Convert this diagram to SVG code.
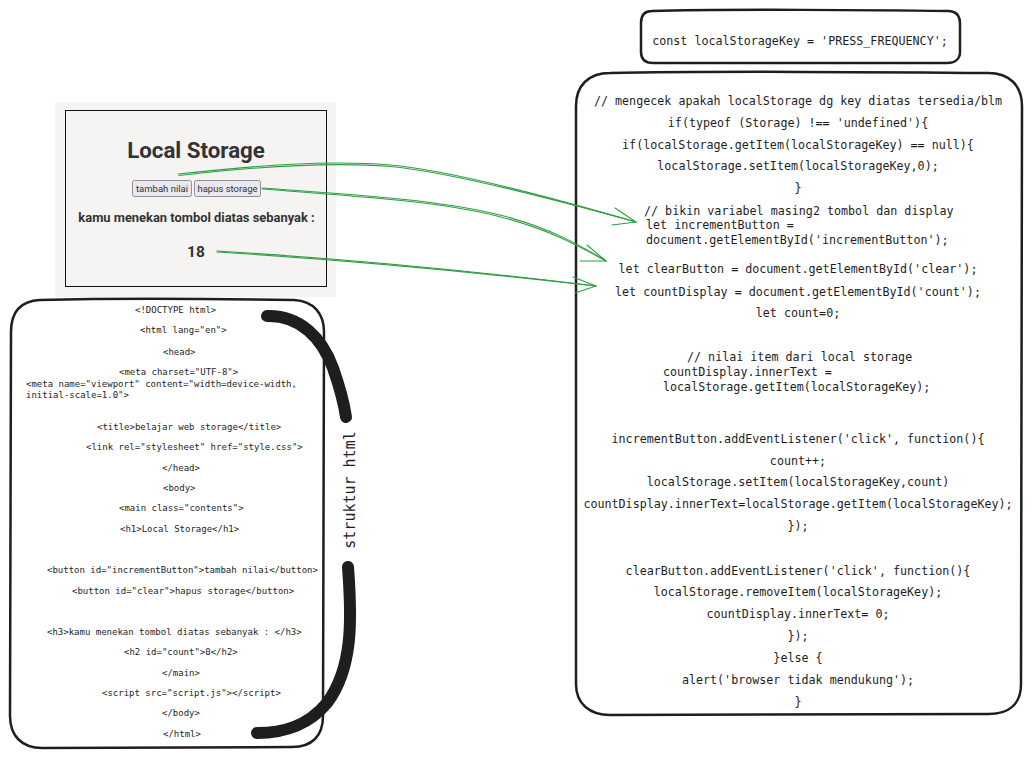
<svg xmlns="http://www.w3.org/2000/svg" width="1032" height="759" viewBox="0 0 1032 759">
<style>
.box{fill:none;stroke:#1e1e1e;stroke-width:2.5;stroke-linecap:round;stroke-linejoin:round}
.code{font-family:"DejaVu Sans Mono","Liberation Mono",monospace;fill:#1e1e1e}
.s{font-size:9px}
.m{font-size:11.7px}
.c{text-anchor:middle}
.arr{fill:none;stroke:#2f9e44;stroke-width:1.1;stroke-linecap:round;stroke-linejoin:round}
.brace{fill:none;stroke:#1e1e1e;stroke-width:12;stroke-linecap:round;stroke-linejoin:round}
.ui{font-family:Roboto,"Noto Sans",sans-serif;fill:#333}
.btn{fill:#e9e8ee;stroke:#8f8f9d;stroke-width:1}
</style>
<rect width="1032" height="759" fill="#ffffff"/>

<g id="screenshot">
  <rect x="55" y="102" width="281" height="195" fill="#f5f4f2"/>
  <rect x="65.5" y="110.5" width="261" height="176" fill="#f5f4f2" stroke="#111" stroke-width="1"/>
  <text class="ui c" x="196" y="158" font-size="22.3" font-weight="bold">Local Storage</text>
  <rect class="btn" x="132.5" y="180.5" width="59" height="16" rx="2"/>
  <text class="ui c" x="162" y="192" font-size="9.5" fill="#222">tambah nilai</text>
  <rect class="btn" x="194.5" y="180.5" width="66" height="16" rx="2"/>
  <text class="ui c" x="227.5" y="192" font-size="9.5" fill="#222">hapus storage</text>
  <text class="ui c" x="196.5" y="222" font-size="12.9" font-weight="bold">kamu menekan tombol diatas sebanyak :</text>
  <text class="ui c" x="196" y="257" font-size="15.5" font-weight="bold">18</text>
</g>

<g id="html-structure">
  <path class="box" d="M40,300 C120,298 230,299 294,300 C314,301 324,314 324,332 L323,716 C323,736 312,747 292,747 L42,748 C22,748 10,736 10,716 L11,332 C11,313 20,301 40,300 Z"/>
  <g class="code s">
    <text x="135" y="313">&lt;!DOCTYPE html&gt;</text>
    <text x="140" y="333">&lt;html lang="en"&gt;</text>
    <text x="163" y="355">&lt;head&gt;</text>
    <text x="119" y="375">&lt;meta charset="UTF-8"&gt;</text>
    <text x="26" y="387">&lt;meta name="viewport" content="width=device-width,</text>
    <text x="26" y="398">initial-scale=1.0"&gt;</text>
    <text x="97" y="430">&lt;title&gt;belajar web storage&lt;/title&gt;</text>
    <text x="86" y="450">&lt;link rel="stylesheet" href="style.css"&gt;</text>
    <text x="162" y="471">&lt;/head&gt;</text>
    <text x="163" y="491">&lt;body&gt;</text>
    <text x="119" y="511">&lt;main class="contents"&gt;</text>
    <text x="120" y="532">&lt;h1&gt;Local Storage&lt;/h1&gt;</text>
    <text x="47" y="573">&lt;button id="incrementButton"&gt;tambah nilai&lt;/button&gt;</text>
    <text x="72" y="594">&lt;button id="clear"&gt;hapus storage&lt;/button&gt;</text>
    <text x="47" y="635">&lt;h3&gt;kamu menekan tombol diatas sebanyak : &lt;/h3&gt;</text>
    <text x="124" y="655">&lt;h2 id="count"&gt;0&lt;/h2&gt;</text>
    <text x="162" y="676">&lt;/main&gt;</text>
    <text x="102" y="696">&lt;script src="script.js"&gt;&lt;/script&gt;</text>
    <text x="162" y="716">&lt;/body&gt;</text>
    <text x="163" y="737">&lt;/html&gt;</text>
  </g>
</g>

<g id="struktur-label">
  <path class="brace" d="M267,316 C300,315 322,338 333,368 C340,388 344,403 346,417"/>
  <path class="brace" d="M348,567 C352,620 353,668 327,703 C307,727 282,733 257,733"/>
  <text class="code" font-size="15" transform="translate(355,490) rotate(-90)" text-anchor="middle">struktur html</text>
</g>

<g id="const-key">
  <path class="box" d="M652,11 C720,9 880,10 948,11 C956,11 960,16 960,24 L960,52 C960,59 955,63 947,63 L653,63 C645,63 641,59 641,52 L641,23 C641,15 645,11 652,11 Z"/>
  <text class="code m c" x="800" y="45">const localStorageKey = 'PRESS_FREQUENCY';</text>
</g>

<g id="script-js">
  <path class="box" d="M610,73 C700,71 900,72 988,73 C1010,73 1022,86 1022,106 L1021,684 C1021,704 1009,714 988,714 L610,715 C590,715 576,704 576,684 L576,106 C576,86 588,73 610,73 Z"/>
  <g class="code m">
    <text class="c" x="798" y="105">// mengecek apakah localStorage dg key diatas tersedia/blm</text>
    <text class="c" x="798" y="127">if(typeof (Storage) !== 'undefined'){</text>
    <text class="c" x="798" y="149">if(localStorage.getItem(localStorageKey) == null){</text>
    <text class="c" x="798" y="170">localStorage.setItem(localStorageKey,0);</text>
    <text class="c" x="798" y="192">}</text>
    <text x="644" y="215">// bikin variabel masing2 tombol dan display</text>
    <text x="646" y="229">let incrementButton =</text>
    <text x="646" y="244">document.getElementById('incrementButton');</text>
    <text class="c" x="798" y="273">let clearButton = document.getElementById('clear');</text>
    <text class="c" x="798" y="296">let countDisplay = document.getElementById('count');</text>
    <text class="c" x="798" y="317">let count=0;</text>
    <text x="687" y="361">// nilai item dari local storage</text>
    <text x="663" y="376">countDisplay.innerText =</text>
    <text x="663" y="391">localStorage.getItem(localStorageKey);</text>
    <text class="c" x="798" y="443">incrementButton.addEventListener('click', function(){</text>
    <text class="c" x="798" y="465">count++;</text>
    <text class="c" x="798" y="486">localStorage.setItem(localStorageKey,count)</text>
    <text class="c" x="798" y="508">countDisplay.innerText=localStorage.getItem(localStorageKey);</text>
    <text class="c" x="798" y="530">});</text>
    <text class="c" x="798" y="575">clearButton.addEventListener('click', function(){</text>
    <text class="c" x="798" y="596">localStorage.removeItem(localStorageKey);</text>
    <text class="c" x="798" y="618">countDisplay.innerText= 0;</text>
    <text class="c" x="798" y="640">});</text>
    <text class="c" x="798" y="662">}else {</text>
    <text class="c" x="798" y="684">alert('browser tidak mendukung');</text>
    <text class="c" x="798" y="706">}</text>
  </g>
</g>

<g id="connectors">
  <path class="arr" d="M178,174 C260,165 330,160 390,165 C450,170 560,200 636,222"/>
  <path class="arr" d="M179,175.5 C261,166 330,161.5 390,166.5 C450,171.5 560,201 636,222"/>
  <path class="arr" d="M615,208 L636,222 L612,225"/>
  <path class="arr" d="M262,188 C360,195 440,200 500,215 C550,228 580,245 606,261"/>
  <path class="arr" d="M262,189 C360,196.5 440,201.5 499,216.5 C549,229.5 579,246 606,261"/>
  <path class="arr" d="M587,245 L606,261 L580,261"/>
  <path class="arr" d="M217,251 Q400,262 596,286"/>
  <path class="arr" d="M217,252 Q400,263.5 596,286"/>
  <path class="arr" d="M573,277 L596,286 L575,293"/>
</g>
</svg>
